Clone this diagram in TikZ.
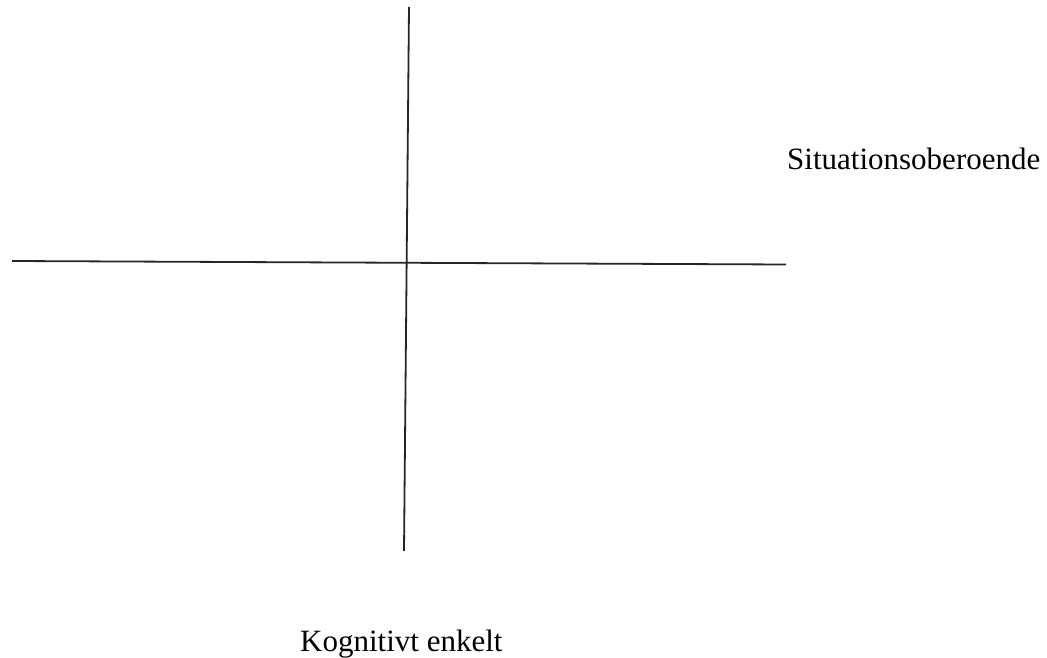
\documentclass[tikz,border=0pt]{standalone}
\usepackage{fontspec}
\setmainfont{Liberation Serif}
\begin{document}
\begin{tikzpicture}[x=1pt,y=-1pt,
  axis/.style={line width=1.8pt,draw=black!85},
  lbl/.style={inner sep=0pt,font=\fontsize{31}{34}\selectfont,text=black}]
\useasboundingbox (0,0) rectangle (1047,658);
\coordinate (vt) at (409,7);
\coordinate (vb) at (404,551);
\coordinate (hl) at (12,261);
\coordinate (hr) at (786,264.5);
\draw[axis] (vt) -- (vb);
\draw[axis] (hl) -- (hr);
\node[lbl,anchor=base west] (sit) at (787,169) {Situationsoberoende};
\node[lbl,anchor=base west] (kog) at (300,651) {Kognitivt enkelt};
\end{tikzpicture}
\end{document}
